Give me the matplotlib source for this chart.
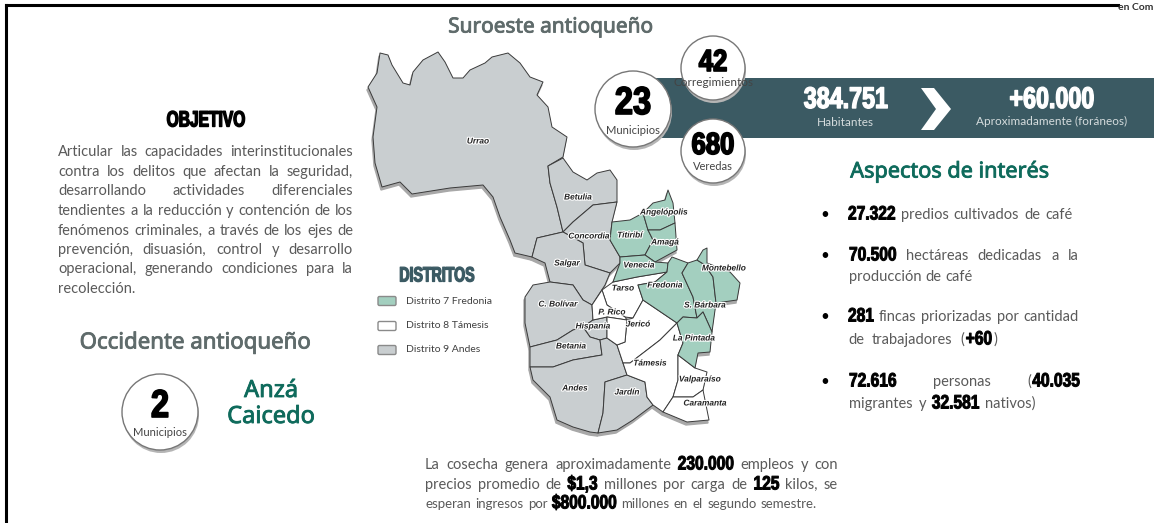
import matplotlib
matplotlib.use("Agg")
import matplotlib.pyplot as plt
import matplotlib.patheffects as pe
from matplotlib.patches import Polygon, Circle, Rectangle, FancyBboxPatch
from matplotlib.transforms import Affine2D

GREEN = "#a3cfbf"
WHITE = "#ffffff"
GRAY = "#c9ced0"
BAR = "#3b5a63"
TEAL = "#0f6b5c"
TXT = "#5a5a5a"
HEAD = "#5f6b6b"

BODY = ["Lato", "DejaVu Sans"]
NARROW = ["Liberation Sans", "DejaVu Sans"]
ROUND = ["Noto Sans", "DejaVu Sans"]

# municipios, contorno
urrao = [(380,53),(388,55),(392,65),(403,83),(410,85),(413,72),(423,60),(438,52),(445,62),(453,78),(463,78),(470,70),(485,63),(492,57),(508,53),(520,63),(530,77),(543,82),(537,95),(548,107),(552,127),(567,137),(563,157),(548,166),(550,183),(557,207),(563,232),(537,238),(532,257),(515,253),(510,240),(500,217),(493,197),(483,185),(450,188),(412,194),(400,182),(382,187),(375,163),(373,137),(377,107),(368,87),(377,73)]
betulia = [(548,166),(563,158),(573,172),(587,180),(597,173),(610,170),(617,180),(617,202),(593,205),(573,222),(563,232),(557,207),(550,183)]
concordia = [(593,205),(617,202),(612,222),(610,240),(620,257),(620,263),(610,273),(585,265),(583,243),(563,232),(573,222)]
salgar = [(537,238),(563,232),(583,243),(585,265),(610,273),(605,285),(592,305),(583,300),(573,285),(550,282),(545,263),(532,257)]
bolivar = [(550,282),(573,285),(583,300),(592,305),(593,320),(583,327),(573,330),(557,340),(530,347),(525,323),(525,297),(533,285)]
hispania = [(593,320),(607,317),(607,338),(600,340),(590,337),(583,327)]
betania = [(530,347),(557,340),(573,330),(583,327),(590,337),(600,340),(602,355),(590,357),(573,360),(553,367),(530,367)]
andes = [(530,367),(553,367),(573,360),(602,355),(600,340),(607,338),(617,345),(623,363),(627,375),(605,382),(603,413),(598,433),(590,432),(573,427),(557,420),(550,397),(533,380)]
jardin = [(605,382),(627,375),(645,382),(647,397),(653,405),(633,420),(617,430),(598,433),(603,413)]
tarso = [(602,290),(613,282),(637,277),(667,272),(655,282),(638,285),(643,300),(633,318),(625,317),(607,305)]
pueblorrico = [(592,305),(602,290),(607,305),(625,317),(627,320),(607,317),(593,320)]
jerico = [(633,318),(643,300),(677,323),(660,340),(647,350),(630,363),(623,363),(617,345),(625,342),(627,320)]
jerico2 = [(607,317),(627,320),(625,342),(617,345),(607,338)]
tamesis = [(623,363),(630,363),(647,350),(660,340),(677,323),(683,343),(678,355),(678,380),(673,397),(663,412),(653,405),(647,397),(645,382),(627,375)]
valparaiso = [(678,355),(695,368),(707,372),(703,390),(693,397),(673,397),(678,380)]
caramanta = [(673,397),(693,397),(703,390),(709,420),(687,422),(663,412)]
titiribi = [(612,222),(630,220),(643,213),(648,230),(653,240),(645,255),(620,257),(610,240)]
angelopolis = [(643,213),(653,203),(665,200),(668,190),(673,203),(675,223),(660,230),(648,230)]
amaga = [(648,230),(660,230),(675,223),(677,250),(655,262),(645,255),(653,240)]
venecia = [(620,257),(645,255),(655,262),(668,263),(667,272),(637,277),(613,282),(620,263)]
fredonia = [(668,263),(672,257),(688,263),(682,273),(693,297),(697,318),(683,317),(677,323),(643,300),(638,285),(655,282),(667,272)]
barbara = [(682,273),(688,263),(697,260),(705,265),(713,277),(716,303),(712,332),(703,312),(697,318),(693,297)]
montebello = [(697,260),(703,250),(707,248),(707,263),(730,272),(740,283),(737,300),(716,303),(713,277),(705,265)]
pintada = [(697,318),(703,312),(712,332),(710,352),(698,353),(695,368),(678,355),(683,343),(677,323),(683,317)]

gray_towns = [urrao, betulia, concordia, salgar, bolivar, hispania, betania, andes, jardin]
white_towns = [tarso, pueblorrico, jerico, jerico2, tamesis, valparaiso, caramanta]
green_towns = [titiribi, angelopolis, amaga, venecia, fredonia, barbara, montebello, pintada]

label_names = ["Urrao","Betulia","Concordia","Angelópolis","Titiribí","Amagá","Venecia","Montebello","Salgar","Tarso","Fredonia","C. Bolívar","S. Bárbara","P. Rico","Jericó","Hispania","La Pintada","Betania","Támesis","Valparaíso","Andes","Jardín","Caramanta"]
label_x = [478,578,589,664,630,665,639,724,567,623,665,558,705,612,638,593,694,571,650,700,575,627,705]
label_y = [142,198,237,213,236,243,266,269,264,289,286,305,306,313,325,327,339,347,364,380,389,393,404]

legend_names = ["Distrito 7 Fredonia", "Distrito 8 Támesis", "Distrito 9 Andes"]
legend_y = [301, 326, 350]
legend_colors = [GREEN, WHITE, GRAY]

objetivo = ["Articular las capacidades interinstitucionales",
            "contra los delitos que afectan la seguridad,",
            "desarrollando actividades diferenciales",
            "tendientes a la reducción y contención de los",
            "fenómenos criminales, a través de los ejes de",
            "prevención, disuasión, control y desarrollo",
            "operacional, generando condiciones para la",
            "recolección."]
objetivo_y = [152, 172, 191, 211, 231, 250, 269, 289]

fig = plt.figure(figsize=(11.54, 5.23), dpi=100)
ax = fig.add_axes([0, 0, 1, 1])
ax.set_xlim(0, 1154)
ax.set_ylim(523, 0)
ax.axis("off")
renderer = fig.canvas.get_renderer()


class Squeeze(pe.AbstractPathEffect):
    # estrecha el texto en horizontal, no hay fuente condensada instalada
    def __init__(self, pivot, sx, stroke, color):
        super().__init__()
        self.pivot, self.sx, self.stroke, self.color = pivot, sx, stroke, color

    def draw_path(self, renderer, gc, tpath, affine, rgbFace):
        a = affine + Affine2D().translate(-self.pivot, 0).scale(self.sx, 1).translate(self.pivot, 0)
        gc0 = renderer.new_gc()
        gc0.copy_properties(gc)
        gc0.set_linewidth(self.stroke)
        gc0.set_foreground(self.color)
        renderer.draw_path(gc0, tpath, a, rgbFace)
        gc0.restore()


def heavy(x, y, s, size, color="black", ha="center", stroke=0.7, z=10, sx=0.8):
    t = ax.text(x, y, s, fontsize=size, color=color, ha=ha, va="center", family=NARROW,
                fontweight="bold", zorder=z)
    px = ax.transData.transform((x, y))[0]
    t.set_path_effects([Squeeze(px, sx, stroke, color)])
    return t


def width_of(s, size, bold):
    t = ax.text(0, 0, s, fontsize=size, family=NARROW if bold else BODY,
                fontweight="bold" if bold else "normal")
    w = t.get_window_extent(renderer).width
    t.remove()
    return w * 0.8 if bold else w


def rich_line(x0, x1, y, parts, size=10.5, bsize=14):
    # parts: lista de (texto, negrita); el sobrante se reparte entre palabras
    words = []
    for s, b in parts:
        if b:
            words.append((s, True))
        else:
            words += [(w, False) for w in s.split()]
    widths = [width_of(w, bsize if b else size, b) for w, b in words]
    glued = [words[i][0] == "(" or words[i + 1][0] == ")" for i in range(len(words) - 1)]
    n_gaps = max(len(glued) - sum(glued), 1)
    gap = (x1 - x0 - sum(widths)) / n_gaps
    x = x0
    for i, ((w, b), wd) in enumerate(zip(words, widths)):
        if b:
            heavy(x, y, w, bsize, ha="left")
        else:
            ax.text(x, y, w, fontsize=size, color=TXT, family=BODY, ha="left", va="center")
        x += wd + (1 if i < len(glued) and glued[i] else gap)


def badge(cx, cy, r, num, nsize, cap, capsize=8, cap_dy=0.56):
    ax.add_patch(Circle((cx + 1, cy + 3), r, fc="#b5b5b5", ec="none", zorder=5))
    ax.add_patch(Circle((cx, cy), r, fc="white", ec="#777777", lw=1, zorder=6))
    heavy(cx, cy - 5, num, nsize, z=7, stroke=1.2, sx=0.84)
    ax.text(cx, cy + r * cap_dy, cap, fontsize=capsize, color="#444444", family=BODY,
            ha="center", va="center", zorder=7)


# marco
ax.plot([6, 6], [5, 523], color="black", lw=2.2)
ax.plot([6, 1118], [5, 5], color="black", lw=2.2)
ax.text(1118, 7, "en Com", fontsize=7.5, color="#333333", family=BODY, fontweight="bold",
        ha="left", va="center", clip_on=True)

# mapa
for group in [gray_towns, white_towns, green_towns]:
    for poly in group:
        ax.add_patch(Polygon([(x - 1, y + 3) for x, y in poly], fc="#a8a8a8", ec="#a8a8a8", lw=1, zorder=1))
for group, col in [(gray_towns, GRAY), (white_towns, WHITE), (green_towns, GREEN)]:
    for poly in group:
        ax.add_patch(Polygon(poly, fc=col, ec="#3a3a3a", lw=0.7, joinstyle="round", zorder=2))
for name, x, y in zip(label_names, label_x, label_y):
    t = ax.text(x, y, name, fontsize=6, style="italic", fontweight="bold", color="#222222",
                family=["Liberation Sans", "DejaVu Sans"], ha="center", va="center", zorder=3)
    t.set_path_effects([pe.withStroke(linewidth=1.6, foreground="white")])

# leyenda
heavy(437, 276, "DISTRITOS", 15, color=BAR, stroke=0.9, sx=0.68)
for name, y, col in zip(legend_names, legend_y, legend_colors):
    ax.add_patch(FancyBboxPatch((378, y - 4.5), 18, 9, boxstyle="round,pad=0,rounding_size=1.5",
                                fc=col, ec="#8a8a8a", lw=1))
    ax.text(406, y, name, fontsize=7.5, color="#404040", family=BODY, ha="left", va="center")

# franja superior
ax.add_patch(Rectangle((640, 78), 514, 60, fc=BAR, ec="none", zorder=4))
heavy(846, 100, "384.751", 21.5, color="white", stroke=1.0, sx=0.78)
ax.text(845, 122, "Habitantes", fontsize=8.5, color="#d5dcdd", family=BODY, ha="center", va="center", zorder=10)
ax.add_patch(Polygon([(921, 88), (934, 88), (951, 109), (934, 130), (921, 130), (936, 109)], fc="white", ec="none", zorder=8))
heavy(1052, 100, "+60.000", 21.5, color="white", stroke=1.0, sx=0.78)
ax.text(1052, 121, "Aproximadamente (foráneos)", fontsize=8.5, color="#d5dcdd", family=BODY, ha="center", va="center", zorder=10)

badge(713, 68, 32, "42", 22, "Corregimientos", capsize=8.5, cap_dy=0.44)
badge(633, 109, 38, "23", 28, "Municipios", capsize=8)
badge(713, 151, 32, "680", 22, "Veredas", capsize=8, cap_dy=0.5)
badge(160, 412, 38, "2", 28, "Municipios", capsize=8, cap_dy=0.53)

# titulos
for x, y, s, size, col in [(551, 27, "Suroeste antioqueño", 15, HEAD), (195, 343, "Occidente antioqueño", 16, HEAD),
                           (950, 172, "Aspectos de interés", 15.6, TEAL), (271, 391, "Anzá", 17, TEAL),
                           (271, 417, "Caicedo", 17, TEAL)]:
    t = ax.text(x, y, s, fontsize=size, color=col, family=ROUND, ha="center", va="center")
    t.set_path_effects([pe.withStroke(linewidth=0.6, foreground=col)])

# objetivo
heavy(206, 121, "OBJETIVO", 16, stroke=1.0, sx=0.7)
for line, y in zip(objetivo[:-1], objetivo_y[:-1]):
    rich_line(58, 353, y, [(line, False)])
rich_line(58, 134, objetivo_y[-1], [(objetivo[-1], False)])

# aspectos
for y in [215, 256, 317, 382]:
    ax.text(825, y, "•", fontsize=11, color="black", family=BODY, ha="center", va="center")
rich_line(848, 1073, 215, [("27.322", True), ("predios cultivados de café", False)])
rich_line(849, 1079, 256, [("70.500", True), ("hectáreas dedicadas a la", False)])
rich_line(849, 973, 277, [("producción de café", False)])
rich_line(848, 1079, 317, [("281", True), ("fincas priorizadas por cantidad", False)])
rich_line(848, 995, 340, [("de trabajadores (", False), ("+60", True), (")", False)])
rich_line(849, 1079, 382, [("72.616", True), ("personas", False), ("(", False), ("40.035", True)])
rich_line(849, 1036, 404, [("migrantes y", False), ("32.581", True), ("nativos)", False)])

# cosecha
rich_line(425, 838, 465, [("La cosecha genera aproximadamente", False), ("230.000", True), ("empleos y con", False)])
rich_line(425, 838, 485, [("precios promedio de", False), ("$1,3", True), ("millones por carga de", False), ("125", True), ("kilos, se", False)])
rich_line(425, 817, 504, [("esperan ingresos por", False), ("$800.000", True), ("millones en el segundo semestre.", False)], size=9.5)

fig.savefig("out.png", dpi=100)
